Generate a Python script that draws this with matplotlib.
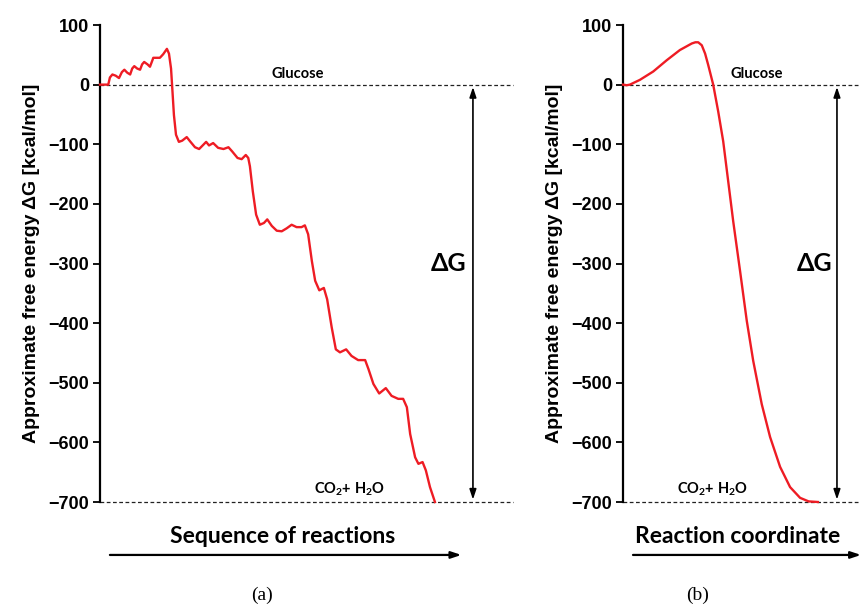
import matplotlib
matplotlib.use('Agg')
import matplotlib.pyplot as plt

plt.rcParams['mathtext.fontset'] = 'custom'
plt.rcParams['mathtext.rm'] = 'Lato'
plt.rcParams['mathtext.bf'] = 'Lato:bold'

# panel (a): sequence of reactions, stepwise descent
seq_x = [0, 2.0, 2.4, 3.0, 3.8, 4.6, 5.3, 5.9, 6.6, 7.3, 7.8, 8.3, 9.0, 9.7, 10.2,
         10.7, 11.5, 12.1, 12.7, 12.9, 14.5, 15.3, 16.2, 16.7, 17.2, 17.5, 17.9, 18.4,
         19.1, 19.9, 21.0, 21.8, 23.0, 24.0, 25.0, 25.7, 26.4, 27.4, 28.6, 29.9, 31.1,
         32.0, 33.3, 34.3, 35.3, 35.9, 36.3, 37.0, 37.8, 38.7, 39.7, 40.5, 41.6, 42.8,
         44.0, 45.2, 46.4, 47.6, 48.8, 49.6, 50.4, 51.3, 52.1, 53.1, 54.2, 55.0, 56.1,
         57.1, 58.1, 59.6, 60.9, 62.5, 64.2, 65.0, 66.2, 67.6, 69.2, 70.6, 72.2, 73.4,
         74.3, 75.1, 76.3, 77.1, 78.1, 78.9, 79.9, 81.1]
seq_g = [0, 0, 12, 17, 15, 11, 21, 25, 20, 17, 27, 31, 27, 25, 34,
         38, 34, 30, 41, 45, 45, 51, 60, 52, 27, -6, -51, -84,
         -96, -94, -88, -95, -105, -108, -101, -96, -102, -98, -106, -108, -105,
         -112, -123, -125, -118, -123, -137, -179, -218, -235, -232, -226, -237, -245,
         -246, -241, -235, -239, -239, -236, -251, -296, -329, -345, -341, -360, -407,
         -444, -449, -444, -455, -462, -462, -477, -502, -518, -509, -522, -527, -527,
         -541, -586, -625, -636, -633, -647, -675, -700]

# panel (b): single reaction coordinate
rc_x = [0, 1.6, 2.9, 7.1, 12.7, 18.4, 23.9, 28.9, 30.4, 31.6, 33.1, 34.5, 35.8,
        37.9, 40.0, 42.1, 46.3, 49.2, 52.0, 54.7, 58.3, 61.8, 66.0, 70.2, 74.4,
        78.0, 81.9]
rc_g = [0, -1, 0, 8, 22, 41, 58, 69, 71, 71, 66, 52, 33,
        0, -45, -95, -229, -313, -396, -463, -536, -591, -641, -675, -693,
        -699, -700]

yticks = [100, 0, -100, -200, -300, -400, -500, -600, -700]
ylabel = 'Approximate free energy ΔG [kcal/mol]'
red = '#ee1c24'

fig = plt.figure(figsize=(8.61, 6.07), dpi=100)
W, H = 861.0, 607.0
bot = 1 - 502 / H
top = 1 - 25 / H
ax_a = fig.add_axes([100 / W, bot, 413 / W, top - bot])
ax_b = fig.add_axes([623 / W, bot, 238 / W, top - bot])


def style(ax):
    ax.set_xlim(0, 100)
    ax.set_ylim(-700, 100)
    for s in ['top', 'right', 'bottom']:
        ax.spines[s].set_visible(False)
    ax.spines['left'].set_linewidth(1.6)
    ax.set_xticks([])
    ax.set_yticks(yticks)
    ax.set_yticklabels([str(t).replace('-', '\u2212') for t in yticks],
                       fontfamily='Liberation Sans', fontweight='bold', fontsize=13)
    ax.tick_params(axis='y', length=5, width=1.3, pad=3)
    ax.set_ylabel(ylabel, fontfamily='Liberation Sans', fontweight='bold',
                  fontsize=14, labelpad=6)
    ax.patch.set_alpha(0)
    for yv in [0, -700]:
        ax.plot([0, 100], [yv, yv], ls=(0, (3, 2)), color='#222222', lw=0.9,
                clip_on=False, zorder=1)


style(ax_a)
style(ax_b)

ax_a.plot(seq_x, seq_g, color=red, lw=1.7, solid_joinstyle='round', clip_on=False, zorder=3)
ax_b.plot(rc_x, rc_g, color=red, lw=1.7, solid_joinstyle='round', clip_on=False, zorder=3)

lab = dict(fontfamily='Lato', fontweight='bold', ha='center', va='center')
for ax, gx, cx, ax_x, dgx in [(ax_a, 47.9, 60.3, 90.3, 84.5), (ax_b, 56.3, 37.4, 89.9, 80.3)]:
    ax.text(gx, 17, 'Glucose', fontsize=10.5, **lab)
    ax.text(cx, -679, r'$\mathbf{CO_2}$+ $\mathbf{H_2O}$', fontsize=10.5, **lab)
    ax.annotate('', xy=(ax_x, -4), xytext=(ax_x, -696),
                arrowprops=dict(arrowstyle='<|-|>,head_length=0.6,head_width=0.2',
                                color='black', lw=1.2, shrinkA=0, shrinkB=0))
    ax.text(dgx, -300, 'ΔG', fontsize=18, **lab)

ax_a.text(0.443, -0.073, 'Sequence of reactions', transform=ax_a.transAxes,
          fontsize=16.5, **lab)
ax_a.annotate('', xy=(0.875, -0.111), xytext=(0.024, -0.111), xycoords='axes fraction',
              textcoords='axes fraction',
              arrowprops=dict(arrowstyle='-|>,head_length=0.6,head_width=0.2',
                              color='black', lw=1.6, shrinkA=0, shrinkB=0))
ax_b.text(0.483, -0.073, 'Reaction coordinate', transform=ax_b.transAxes,
          fontsize=16.5, **lab)
ax_b.annotate('', xy=(1.0, -0.111), xytext=(0.042, -0.111), xycoords='axes fraction',
              textcoords='axes fraction',
              arrowprops=dict(arrowstyle='-|>,head_length=0.6,head_width=0.2',
                              color='black', lw=1.6, shrinkA=0, shrinkB=0))

fig.text(262 / W, 1 - 595 / H, '(a)', fontfamily='Liberation Serif', fontsize=14,
         ha='center', va='center')
fig.text(698 / W, 1 - 595 / H, '(b)', fontfamily='Liberation Serif', fontsize=14,
         ha='center', va='center')

fig.savefig('out.png', dpi=100)
